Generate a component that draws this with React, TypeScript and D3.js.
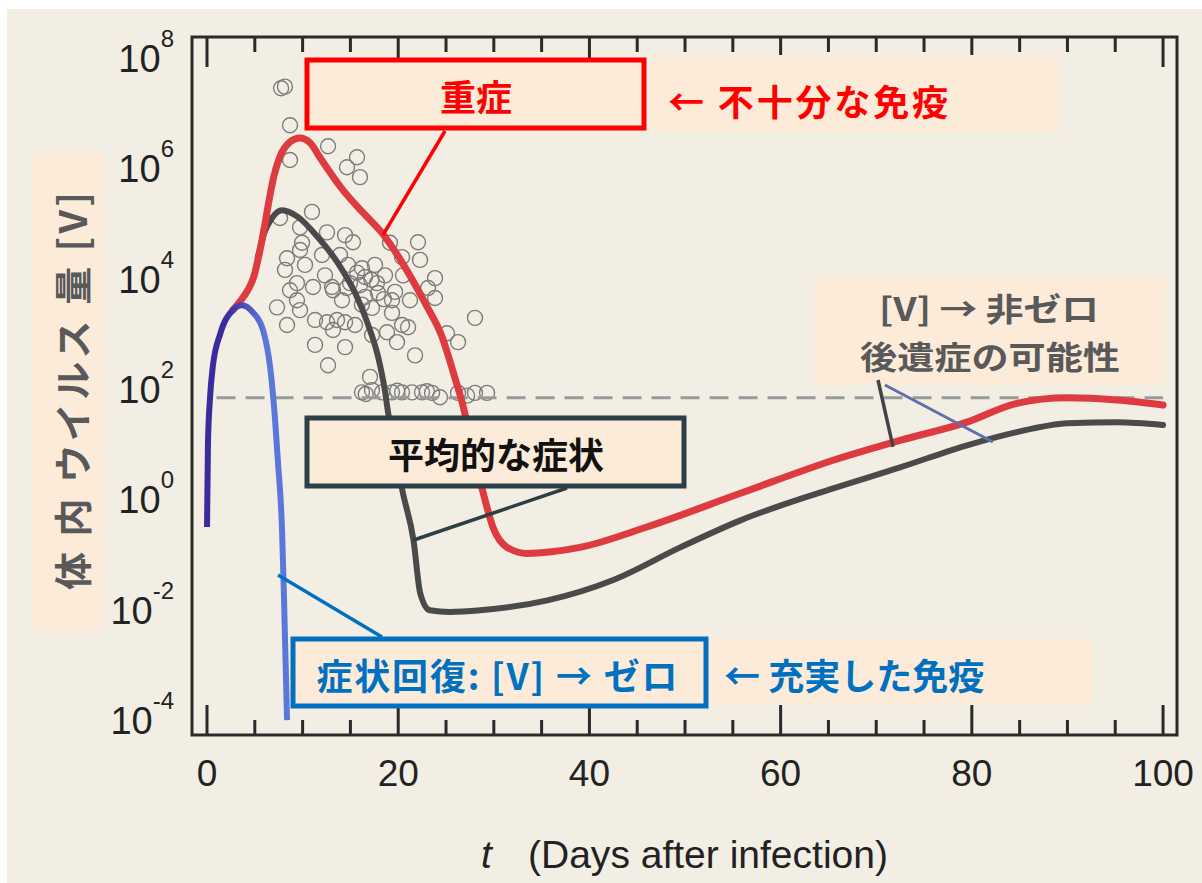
import React from 'react';
import * as d3 from 'd3';

// ---- data (time in days, viral load as log10 copies) ----
const xMajorTicks = [0, 20, 40, 60, 80, 100];
const xMinorTicks = [5, 10, 15, 25, 30, 35, 45, 50, 55, 65, 70, 75, 85, 90, 95];
const yTickExponents = [8, 6, 4, 2, 0, -2, -4];

const detectionLog10 = 1.86;

const recoveryDays = [0, 0.1, 0.3, 0.6, 1.4, 2.7, 3.66, 4.8, 5.86, 6.6, 7.1, 7.43, 7.85, 8.05, 8.37];
const recoveryLog10 = [-0.48, 1.04, 1.82, 2.42, 3.03, 3.45, 3.54, 3.41, 3.09, 2.42, 1.51, 0.68, -0.54, -1.75, -3.98];

const severeDays = [2.7, 3.5, 4.3, 4.9, 5.5, 6.0, 6.5, 7.0, 7.6, 8.7, 9.7, 10.8, 11.8, 14.2, 16.3, 18.3, 20.7, 22.8, 24.6, 25.9, 26.7, 27.6, 28.9, 29.9, 31.4, 33.5, 36, 39, 46, 55.8, 65.5, 72.5, 79.5, 84.7, 90, 95.2, 100];
const severeLog10 = [3.45, 3.62, 3.82, 4.06, 4.5, 4.95, 5.45, 5.88, 6.22, 6.5, 6.57, 6.48, 6.22, 5.63, 5.22, 4.85, 4.23, 3.58, 2.96, 2.24, 1.77, 1.1, 0.13, -0.48, -0.85, -0.96, -0.93, -0.85, -0.48, 0.13, 0.73, 1.09, 1.42, 1.76, 1.86, 1.82, 1.73];

const averageDays = [5.3, 6.0, 6.8, 7.85, 9.5, 11.6, 13.7, 15.5, 16.8, 17.9, 18.6, 18.9, 19.6, 20.5, 21.6, 22.3, 23.3, 25.4, 28.6, 35.6, 42.5, 49.5, 55.8, 65.5, 72.5, 79.5, 84.7, 90, 95.2, 100];
const averageLog10 = [4.4, 4.85, 5.12, 5.26, 5.14, 4.77, 4.3, 3.76, 3.21, 2.6, 2.0, 1.64, 0.9, 0.13, -0.72, -1.68, -1.99, -2.02, -1.99, -1.81, -1.44, -0.85, -0.36, 0.22, 0.6, 1.0, 1.24, 1.4, 1.42, 1.37];

const patientDays = [
  7.75, 8.15, 8.68, 8.68, 12.66, 15.69, 14.64, 16.0, 7.64, 9.73,
  10.98, 12.55, 9.94, 15.27, 19.14, 22.07, 20.4, 22.28, 8.37, 10.25,
  8.16, 14.75, 16.21, 16.53, 9.41, 11.09, 13.08, 14.96, 17.78, 17.89,
  23.85, 23.12, 23.85, 9.41, 13.18, 14.12, 16.53, 19.67, 7.32, 17.26,
  19.35, 11.3, 12.55, 13.6, 14.44, 13.18, 18.83, 20.4, 21.03, 28.03,
  8.37, 19.87, 25.1, 26.26, 11.3, 14.44, 21.76, 12.66, 17.05,
  15.7, 17.2, 14.6, 18.5, 16.2,
  9.73, 12.03, 13.91, 17.57, 18.62, 16.0, 19.35, 21.23, 15.48, 17.26,
  9.73, 8.68, 12.34, 20.5, 14.44,
  16.21, 16.6, 17.26, 18.31, 19.35, 19.9, 20.4, 21.44, 22.49, 23.0, 23.54, 24.37, 26.26, 27.2, 28.03, 29.29
];
const patientLog10 = [
  7.47, 7.5, 6.8, 6.17, 6.42, 6.22, 6.04, 5.86, 5.12, 4.95,
  5.23, 4.86, 4.67, 4.68, 4.67, 4.68, 4.41, 4.36, 4.39, 4.27,
  4.18, 4.27, 4.21, 4.05, 3.94, 3.87, 3.87, 3.94, 3.94, 3.76,
  4.03, 3.85, 3.67, 3.63, 3.81, 3.63, 3.69, 3.78, 3.5, 3.49,
  3.4, 3.27, 3.23, 3.27, 3.23, 3.09, 3.05, 3.18, 3.14, 3.31,
  3.18, 2.87, 3.03, 2.87, 2.82, 2.78, 2.63, 2.45, 2.24,
  4.13, 4.0, 3.85, 3.65, 3.55,
  4.54, 4.45, 4.45, 4.27, 4.08, 3.9, 3.63, 3.63, 3.18, 3.0,
  3.45, 3.81, 4.08, 4.08, 4.81,
  1.96, 1.93, 2.0, 1.96, 1.96, 1.99, 1.96, 1.96, 1.96, 1.98, 1.95, 1.87, 1.95, 1.9, 1.95, 1.95
];

// ---- styling ----
const BG = '#F2EEE4';
const PEACH = '#FDEBD9';
const RED = '#FF0000';
const BLUE = '#0070C0';
const SLATE = '#2B3F47';
const GREY_TEXT = '#595959';
const JP = '"Noto Sans CJK JP", "Noto Sans", sans-serif';
const LATIN = '"Liberation Sans", Arial, Helvetica, sans-serif';

const frame = { left: 192, top: 37, right: 1177, bottom: 735 };

type Pt = [number, number];
const zip = (a: number[], b: number[]): Pt[] => a.map((v, i) => [v, b[i]] as Pt);

export default function App() {
  const x = d3.scaleLinear().domain([-1.57, 101.46]).range([frame.left, frame.right]);
  const y = d3.scaleLog().domain([Math.pow(10, -4.25), Math.pow(10, 8.4)]).range([frame.bottom, frame.top]);
  const yl = (v: number) => y(Math.pow(10, v));

  const line = d3
    .line<Pt>()
    .x((d) => x(d[0]))
    .y((d) => yl(d[1]))
    .curve(d3.curveMonotoneX);

  const recovery = line(zip(recoveryDays, recoveryLog10)) || '';
  const severe = line(zip(severeDays, severeLog10)) || '';
  const average = line(zip(averageDays, averageLog10)) || '';
  const patients = zip(patientDays, patientLog10);

  const majorLen = 30;
  const minorLen = 15;

  return (
    <svg width={1202} height={883} style={{ position: 'absolute', left: 0, top: 0, display: 'block' }}>
      <defs>
        <linearGradient id="recoveryGrad" gradientUnits="userSpaceOnUse" x1={x(2)} y1={0} x2={x(6)} y2={0}>
          <stop offset="0" stopColor="#3A2C9C" />
          <stop offset="1" stopColor="#5A78DA" />
        </linearGradient>
      </defs>
      <rect x={0} y={0} width={1202} height={883} fill="#FFFFFF" />
      <rect x={7} y={9} width={1195} height={874} fill={BG} />

      {/* y-axis title */}
      <rect x={32} y={153} width={71} height={477} fill={PEACH} />
      <text
        transform={`translate(70,391) rotate(-90)`}
        textAnchor="middle"
        dominantBaseline="central"
        fontFamily={JP}
        fontWeight={700}
        fontSize={38}
        fill={GREY_TEXT}
        textLength={398}
        lengthAdjust="spacing"
      >
        体 内 ウイルス 量 [V]
      </text>

      {/* y tick labels */}
      {yTickExponents.map((e) => (
        <text key={e} x={174} y={yl(e) + 13} textAnchor="end" fontFamily={LATIN} fontSize={38} fill="#222">
          <tspan>10</tspan>
          <tspan dy={-25} fontSize={24}>{e < 0 ? `-${-e}` : `${e}`}</tspan>
        </text>
      ))}

      {/* x tick labels */}
      {xMajorTicks.map((t) => (
        <text key={t} x={x(t)} y={786} textAnchor="middle" fontFamily={LATIN} fontSize={37} fill="#222">
          {t}
        </text>
      ))}

      {/* x-axis title */}
      <text x={481} y={868} fontFamily={LATIN} fontSize={39} fill="#222" fontStyle="italic">t</text>
      <text x={528} y={868} fontFamily={LATIN} fontSize={39} fill="#222" textLength={360} lengthAdjust="spacingAndGlyphs">
        (Days after infection)
      </text>

      {/* patient measurements */}
      <g fill="none" stroke="#7C7C7C" strokeWidth={1.4}>
        {patients.map((p, i) => (
          <circle key={i} cx={x(p[0])} cy={yl(p[1])} r={7.5} />
        ))}
      </g>

      {/* detection limit */}
      <line
        x1={x(1)}
        x2={x(100)}
        y1={yl(detectionLog10)}
        y2={yl(detectionLog10)}
        stroke="#9A9A9A"
        strokeWidth={3}
        strokeDasharray="19 10"
      />

      {/* model trajectories */}
      <path d={average} fill="none" stroke="#4A4A4A" strokeWidth={6} strokeLinecap="round" strokeLinejoin="round" />
      <path d={severe} fill="none" stroke="#DE3B40" strokeWidth={7} strokeLinecap="round" strokeLinejoin="round" />
      <path d={recovery} fill="none" stroke="url(#recoveryGrad)" strokeWidth={6} strokeLinecap="butt" strokeLinejoin="round" />

      {/* frame and ticks */}
      <rect
        x={frame.left}
        y={frame.top}
        width={frame.right - frame.left}
        height={frame.bottom - frame.top}
        fill="none"
        stroke="#2A2A2A"
        strokeWidth={3}
      />
      <g stroke="#2A2A2A" strokeWidth={3}>
        {xMajorTicks.map((t) => (
          <g key={t}>
            <line x1={x(t)} x2={x(t)} y1={frame.bottom} y2={frame.bottom - majorLen} />
            <line x1={x(t)} x2={x(t)} y1={frame.top} y2={frame.top + majorLen} />
          </g>
        ))}
        {xMinorTicks.map((t) => (
          <g key={t}>
            <line x1={x(t)} x2={x(t)} y1={frame.bottom} y2={frame.bottom - minorLen} />
            <line x1={x(t)} x2={x(t)} y1={frame.top} y2={frame.top + minorLen} />
          </g>
        ))}
      </g>

      {/* severe annotation */}
      <line x1={445} y1={131} x2={x(18.4)} y2={yl(4.81)} stroke={RED} strokeWidth={3.5} />
      <rect x={307} y={60} width={337} height={68} fill={PEACH} stroke={RED} strokeWidth={5} />
      <text x={476} y={95} textAnchor="middle" dominantBaseline="central" fontFamily={JP} fontWeight={700} fontSize={36} fill={RED}>
        重症
      </text>
      <rect x={650} y={55} width={409} height={77} fill={PEACH} />
      <text x={668} y={100} dominantBaseline="central" fontFamily={JP} fontWeight={700} fontSize={36} fill={RED} textLength={280} lengthAdjust="spacing">
        ← 不十分な免疫
      </text>

      {/* average annotation */}
      <line x1={567} y1={488} x2={x(21.55)} y2={yl(-0.72)} stroke={SLATE} strokeWidth={3.5} />
      <rect x={307} y={418} width={377} height={68} fill={PEACH} stroke={SLATE} strokeWidth={5} />
      <text x={496} y={453} textAnchor="middle" dominantBaseline="central" fontFamily={JP} fontWeight={700} fontSize={36} fill="#111">
        平均的な症状
      </text>

      {/* recovery annotation */}
      <line x1={382} y1={637} x2={x(7.43)} y2={yl(-1.35)} stroke={BLUE} strokeWidth={3.5} />
      <rect x={293} y={639} width={413} height={67} fill={PEACH} stroke={BLUE} strokeWidth={5} />
      <text x={497} y={674} textAnchor="middle" dominantBaseline="central" fontFamily={JP} fontWeight={700} fontSize={36} fill={BLUE} textLength={361} lengthAdjust="spacing">
        症状回復: [V] → ゼロ
      </text>
      <rect x={710} y={639} width={382} height={66} fill={PEACH} />
      <text x={724} y={674} dominantBaseline="central" fontFamily={JP} fontWeight={700} fontSize={36} fill={BLUE}>
        ← 充実した免疫
      </text>

      {/* persistent load annotation */}
      <rect x={814} y={275} width={352} height={110} fill={PEACH} />
      <text x={989} y={307} textAnchor="middle" dominantBaseline="central" fontFamily={JP} fontWeight={700} fontSize={32} fill={GREY_TEXT} textLength={220} lengthAdjust="spacingAndGlyphs">
        [V] → 非ゼロ
      </text>
      <text x={990} y={355} textAnchor="middle" dominantBaseline="central" fontFamily={JP} fontWeight={700} fontSize={32} fill={GREY_TEXT} textLength={260} lengthAdjust="spacingAndGlyphs">
        後遺症の可能性
      </text>
      <line x1={878} y1={380} x2={x(71.76)} y2={yl(0.97)} stroke="#444" strokeWidth={3.5} />
      <line x1={885} y1={385} x2={x(82.2)} y2={yl(1.06)} stroke="#6070A8" strokeWidth={3} />
    </svg>
  );
}
